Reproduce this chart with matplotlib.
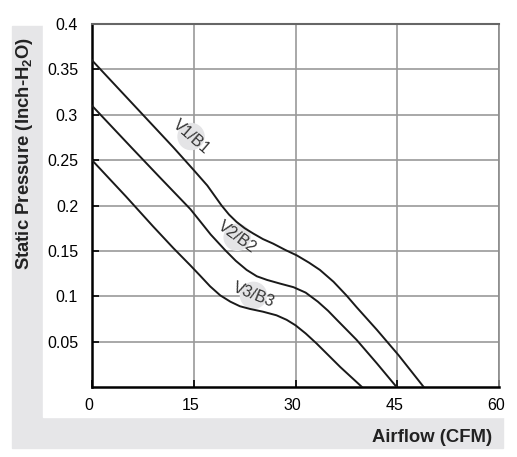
import matplotlib.pyplot as plt
import matplotlib.transforms as mtransforms
from matplotlib.patches import Rectangle, Ellipse

plt.rcParams['font.family'] = ['Liberation Sans', 'DejaVu Sans']
plt.rcParams['mathtext.fontset'] = 'custom'
plt.rcParams['mathtext.bf'] = 'Liberation Sans:bold'
plt.rcParams['mathtext.rm'] = 'Liberation Sans'

# curves (airflow CFM, static pressure inch-H2O)
v1_x = [0, 4, 8, 12, 15, 17, 19.1, 20.2, 21.3, 22.5, 23.8, 25.2, 26.7, 28.5, 30.2, 32, 33.6,
        35.6, 37.5, 39, 42, 45.2, 48.9]
v1_y = [.36, .328, .296, .264, .239, .222, .2, .190, .182, .175, .169, .163, .158, .151, .145, .137, .129,
        .116, .101, .088, .063, .035, 0]

v2_x = [0, 5.8, 10, 14.5, 15.9, 17.5, 19.6, 21.2, 22.8, 24.3, 25.8, 27.7, 29.7, 31.5, 33.3,
        34.8, 36.1, 39, 42, 44.9]
v2_y = [.31, .264, .231, .196, .183, .168, .151, .139, .129, .122, .118, .114, .110, .104, .094,
        .084, .074, .052, .026, 0]

v3_x = [0, 5, 9, 12, 14.5, 15.9, 17.4, 18.9, 20.4, 21.8, 23.3, 25.2, 27.2, 28.7, 30, 31.5,
        33.1, 36.6, 39.8]
v3_y = [.25, .210, .177, .153, .134, .123, .111, .101, .094, .089, .086, .083, .079, .074, .068, .059,
        .048, .022, 0]

labels = ['V1/B1', 'V2/B2', 'V3/B3']
label_pos = [(14.6, 0.276), (21.4, 0.165), (23.8, 0.101)]
label_rot = [-41, -36, -22]

x_ticks = [0, 15, 30, 45, 60]
y_ticks = [0.05, 0.1, 0.15, 0.2, 0.25, 0.3, 0.35, 0.4]
y_tick_labels = ['0.05', '0.1', '0.15', '0.2', '0.25', '0.3', '0.35', '0.4']

W, H = 517, 457
fig = plt.figure(figsize=(W / 100, H / 100), dpi=100)

# gray L-shaped frame behind the chart
fig.patches.append(Rectangle((12 / W, 1 - 448 / H), 491 / W, 422 / H,
                             transform=fig.transFigure, color='#e6e6e8', zorder=0))
fig.patches.append(Rectangle((43 / W, 1 - 417 / H), (W - 43) / W, 417 / H,
                             transform=fig.transFigure, color='white', zorder=0))

ax = fig.add_axes([92 / W, 1 - 387 / H, 407 / W, 363 / H])
ax.set_zorder(2)
ax.set_facecolor('white')

for xs, ys in [(v1_x, v1_y), (v2_x, v2_y), (v3_x, v3_y)]:
    ax.plot(xs, ys, color='#1a1a1a', lw=1.4, zorder=3)

for (cx, cy), txt, rot in zip(label_pos, labels, label_rot):
    ax.add_patch(Ellipse((cx, cy), 26 / 6.78, 26 / 907.5, color='#e4e4e6', zorder=2))
    ax.text(cx, cy, txt, rotation=rot, ha='center', va='center', fontsize=11.5,
            color='#333333', zorder=4, rotation_mode='anchor')

ax.set_xlim(0, 60)
ax.set_ylim(0, 0.4)
ax.set_xticks(x_ticks)
ax.set_xticklabels([str(v) for v in x_ticks])
ax.set_yticks(y_ticks)
ax.set_yticklabels(y_tick_labels)
ax.tick_params(direction='in', length=5, width=1.2, labelsize=11.5, colors='black')
ax.tick_params(axis='y', pad=10)
ax.tick_params(axis='x', pad=8)
ax.grid(True, color='#9a9a9a', lw=1.2, zorder=1)
ax.set_axisbelow(True)

# x labels sit a little left of their ticks in the original
shift = mtransforms.ScaledTranslation(-3 / 100, 0, fig.dpi_scale_trans)
for lab in ax.get_xticklabels():
    lab.set_transform(lab.get_transform() + shift)

ax.spines['left'].set_color('black')
ax.spines['left'].set_linewidth(1.8)
ax.spines['bottom'].set_color('black')
ax.spines['bottom'].set_linewidth(1.8)
ax.spines['top'].set_color('#666666')
ax.spines['top'].set_linewidth(1.5)
ax.spines['right'].set_color('#8a8a8a')
ax.spines['right'].set_linewidth(1.2)

fig.text(25 / W, 1 - 153 / H, 'Static Pressure (Inch-H$_\\mathbf{2}$O)', rotation=90,
         ha='center', va='center', fontsize=13.3, fontweight='bold', color='#222222')
fig.text(492 / W, 1 - 437 / H, 'Airflow (CFM)', ha='right', va='center',
         fontsize=13.3, fontweight='bold', color='#222222')

fig.savefig('out.png', dpi=100)
